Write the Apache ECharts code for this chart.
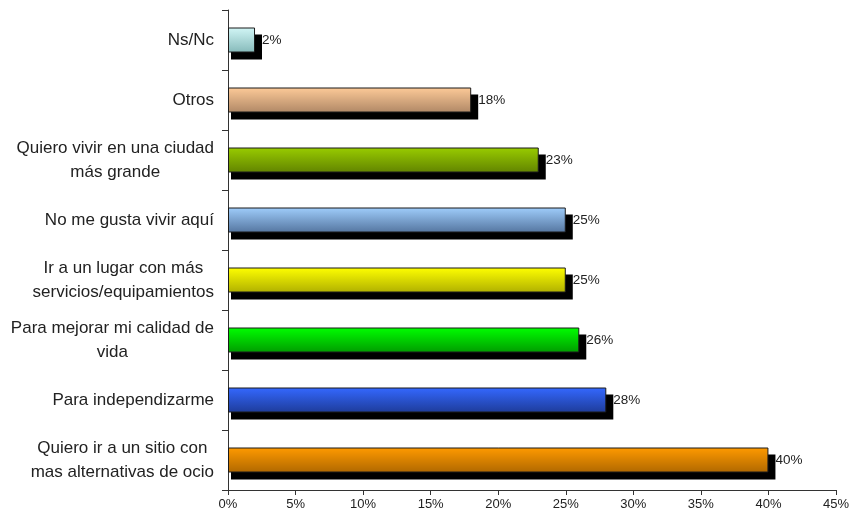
<!DOCTYPE html>
<html>
<head>
<meta charset="utf-8">
<script src="https://cdn.jsdelivr.net/npm/echarts@6/dist/echarts.min.js"></script>
<style>
    html, body {margin: 0; padding: 0; background: #fff;}
    #chart {width: 852px; height: 520px;}
</style>
</head>
<body>
<div id="chart"></div>
<script>
// categories top to bottom
const categories = [
    'Ns/Nc',
    'Otros',
    'Quiero vivir en una ciudad\nmás grande',
    'No me gusta vivir aquí',
    'Ir a un lugar con más\nservicios/equipamientos',
    'Para mejorar mi calidad de\nvida',
    'Para independizarme',
    'Quiero ir a un sitio con\nmas alternativas de ocio'
];
const values = [2, 18, 23, 25, 25, 26, 28, 40];
const tickLabels = ['0%', '5%', '10%', '15%', '20%', '25%', '30%', '35%', '40%', '45%'];

// gradient colours per bar (top, bottom)
const topColors = ['#d2f6f6', '#fdca98', '#99cc00', '#9fcdfb', '#ffff00', '#00ff00', '#3468ff', '#ff9a00'];
const bottomColors = ['#86baba', '#b08866', '#628400', '#5576a0', '#b0b000', '#009c00', '#1e3c9a', '#b06800'];

const FONT = '"Liberation Sans", Arial, sans-serif';
const BAR_H = 25;

let myChart = echarts.init(document.getElementById('chart'));

let data = values.map(function (v, i) {
    return {
        value: v,
        itemStyle: {
            color: new echarts.graphic.LinearGradient(0, 0, 0, 1, [
                {offset: 0, color: topColors[i]},
                {offset: 1, color: bottomColors[i]}
            ])
        }
    };
});

// black drop shadow behind each bar
function renderShadow(params, api) {
    let start = api.coord([0, api.value(1)]);
    let end = api.coord([api.value(0), api.value(1)]);
    return {
        type: 'rect',
        shape: {
            x: start[0] + 3,
            y: start[1] - BAR_H / 2 + 7,
            width: end[0] - start[0] + 4,
            height: BAR_H
        },
        style: {fill: '#000'}
    };
}

myChart.setOption({
    animation: false,
    backgroundColor: '#fff',
    grid: {left: 228, right: 16, top: 10, bottom: 30},
    xAxis: {
        type: 'value',
        min: 0,
        max: 45,
        interval: 5,
        splitLine: {show: false},
        axisLine: {show: true, lineStyle: {color: '#333', width: 1}},
        axisTick: {show: true, length: 5, lineStyle: {color: '#333'}},
        axisLabel: {
            margin: 8,
            color: '#222',
            fontSize: 13,
            fontFamily: FONT,
            formatter: function (v) {
                return tickLabels[Math.round(v / 5)];
            }
        }
    },
    yAxis: {
        type: 'category',
        inverse: true,
        data: categories,
        axisLine: {show: true, lineStyle: {color: '#333', width: 1}},
        axisTick: {show: true, length: 6, alignWithLabel: false, lineStyle: {color: '#333'}},
        axisLabel: {
            margin: 14,
            color: '#222',
            fontSize: 17,
            fontFamily: FONT,
            lineHeight: 24,
            formatter: function (name) {
                if (name.indexOf('\n') < 0) return name;
                return name.split('\n').map(function (l) {
                    return '{c|' + l + '}';
                }).join('\n');
            },
            rich: {
                c: {
                    align: 'center',
                    color: '#222',
                    fontSize: 17,
                    fontFamily: FONT,
                    lineHeight: 24
                }
            }
        }
    },
    series: [
        {
            type: 'custom',
            renderItem: renderShadow,
            encode: {x: 0, y: 1},
            data: values.map(function (v, i) { return [v, i]; }),
            z: 1,
            silent: true
        },
        {
            type: 'bar',
            barWidth: BAR_H,
            data: data,
            z: 3,
            itemStyle: {
                borderColor: '#1a1a1a',
                borderWidth: 1
            },
            label: {
                show: true,
                position: 'right',
                distance: 7,
                color: '#222',
                fontSize: 13.5,
                fontFamily: FONT,
                formatter: '{c}%'
            }
        }
    ]
});
</script>
</body>
</html>
